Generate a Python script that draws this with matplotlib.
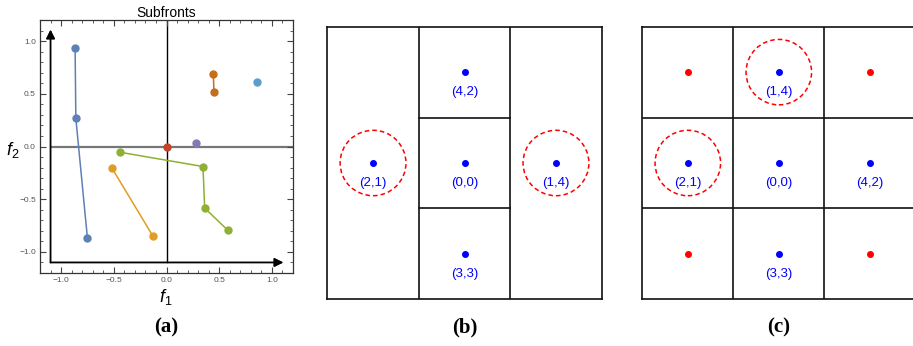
import matplotlib
matplotlib.use("Agg")
import matplotlib.pyplot as plt
from matplotlib.patches import Circle
from matplotlib.ticker import MultipleLocator, FuncFormatter

plt.rcParams['font.family'] = ['Liberation Sans', 'DejaVu Sans']
plt.rcParams['mathtext.fontset'] = 'custom'
plt.rcParams['mathtext.rm'] = 'Liberation Sans'
plt.rcParams['mathtext.it'] = 'Liberation Sans:italic'

W, H = 913, 346
fig = plt.figure(figsize=(W / 100, H / 100), dpi=100)


def px_axes(left, top, right, bottom):
    return fig.add_axes([left / W, 1 - bottom / H, (right - left) / W, (bottom - top) / H])


# ---- (a) subfronts in objective space ----
blue_f1 = [-0.867, -0.86, -0.75]
blue_f2 = [0.93, 0.267, -0.87]
orange_f1 = [-0.517, -0.127]
orange_f2 = [-0.206, -0.853]
green_f1 = [-0.444, 0.346, 0.362, 0.581]
green_f2 = [-0.054, -0.19, -0.584, -0.794]
red_f1 = [0.0]
red_f2 = [0.0]
purple_f1 = [0.279]
purple_f2 = [0.032]
brown_f1 = [0.444, 0.45]
brown_f2 = [0.69, 0.52]
sky_f1 = [0.854]
sky_f2 = [0.61]

series = [
    (blue_f1, blue_f2, '#5E81B5'),
    (orange_f1, orange_f2, '#E19C24'),
    (green_f1, green_f2, '#8FB032'),
    (red_f1, red_f2, '#C8432A'),
    (purple_f1, purple_f2, '#8778B3'),
    (brown_f1, brown_f2, '#C56E1A'),
    (sky_f1, sky_f2, '#5D9EC7'),
]

ax = px_axes(40, 20, 293, 273)
ax.set_xlim(-1.2, 1.2)
ax.set_ylim(-1.2, 1.2)

# coordinate axes through the origin
ax.plot([-1.1, 1.2], [0, 0], color='#777777', lw=1.6, zorder=1)
ax.plot([0, 0], [-1.1, 1.2], color='black', lw=1.0, zorder=1)
# arrows
ax.annotate('', xy=(1.11, -1.1), xytext=(-1.1, -1.1),
            arrowprops=dict(arrowstyle='-|>', color='black', lw=1.3, mutation_scale=13,
                            shrinkA=0, shrinkB=0), zorder=2)
ax.annotate('', xy=(-1.1, 1.11), xytext=(-1.1, -1.1),
            arrowprops=dict(arrowstyle='-|>', color='black', lw=1.3, mutation_scale=13,
                            shrinkA=0, shrinkB=0), zorder=2)

for xs, ys, c in series:
    ax.plot(xs, ys, '-o', color=c, lw=1.1, ms=5, zorder=3)

ax.set_title('Subfronts', fontsize=10, pad=2)
for s in ax.spines.values():
    s.set_color('#333333')
    s.set_linewidth(0.9)
ax.xaxis.set_major_locator(MultipleLocator(0.5))
ax.yaxis.set_major_locator(MultipleLocator(0.5))
ax.xaxis.set_minor_locator(MultipleLocator(0.1))
ax.yaxis.set_minor_locator(MultipleLocator(0.1))
ax.tick_params(which='both', direction='in', top=True, right=True, colors='#444444',
               labelsize=6, labelcolor='#555555', pad=3)
ax.tick_params(which='major', length=4, width=0.8)
ax.tick_params(which='minor', length=2, width=0.6)
fmt = FuncFormatter(lambda v, p: f'{v:.1f}'.replace('-', '\u2212'))
ax.xaxis.set_major_formatter(fmt)
ax.yaxis.set_major_formatter(fmt)

fig.text(166 / W, 1 - 297 / H, '$f_1$', fontsize=13, ha='center', va='center')
fig.text(13 / W, 1 - 150 / H, '$f_2$', fontsize=13, ha='center', va='center')

# ---- (b) and (c) cell grids ----
dot_blue = '#0000FF'
dot_red = '#FF0000'

b_cells = [(0.5, 1.5), (1.5, 2.5), (1.5, 1.5), (1.5, 0.5), (2.5, 1.5)]
b_labels = ['(2,1)', '(4,2)', '(0,0)', '(3,3)', '(1,4)']
b_circled = [True, False, False, False, True]

c_cells = [(0.5, 1.5), (1.5, 2.5), (1.5, 1.5), (1.5, 0.5), (2.5, 1.5)]
c_labels = ['(2,1)', '(1,4)', '(0,0)', '(3,3)', '(4,2)']
c_circled = [True, True, False, False, False]
c_empty = [(0.5, 2.5), (2.5, 2.5), (0.5, 0.5), (2.5, 0.5)]

LW = 1.2


def draw_cells(a, cells, labels, circled):
    for (x, y), lab, circ in zip(cells, labels, circled):
        a.plot(x, y, 'o', color=dot_blue, ms=4, zorder=3)
        a.text(x, y - 0.22, lab, color=dot_blue, fontsize=9.5, ha='center', va='center')
        if circ:
            a.add_patch(Circle((x, y), 0.36, fill=False, ec=dot_red, lw=1.1,
                               ls=(0, (3, 2)), zorder=2))


def style_grid(a):
    a.set_xlim(0, 3)
    a.set_ylim(0, 3)
    a.set_xticks([])
    a.set_yticks([])
    for s in a.spines.values():
        s.set_linewidth(LW)
        s.set_color('#111111')


axb = px_axes(327.3, 26.7, 601.7, 299.3)
style_grid(axb)
for x in [1, 2]:
    axb.plot([x, x], [0, 3], color='#111111', lw=LW)
for y in [1, 2]:
    axb.plot([1, 2], [y, y], color='#111111', lw=LW)
draw_cells(axb, b_cells, b_labels, b_circled)

axc = px_axes(642.3, 26.7, 915.3, 299.3)
style_grid(axc)
for v in [1, 2]:
    axc.plot([v, v], [0, 3], color='#111111', lw=LW)
    axc.plot([0, 3], [v, v], color='#111111', lw=LW)
draw_cells(axc, c_cells, c_labels, c_circled)
for x, y in c_empty:
    axc.plot(x, y, 'o', color=dot_red, ms=4, zorder=3)

for xc, lab in [(166, '(a)'), (465, '(b)'), (779, '(c)')]:
    fig.text(xc / W, 1 - 327 / H, lab, fontsize=15, fontweight='bold',
             family='Liberation Serif', ha='center', va='center')

fig.savefig('out.png', dpi=100)
